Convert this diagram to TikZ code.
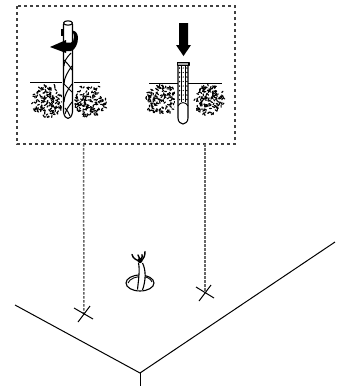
\documentclass[tikz,border=0pt]{standalone}
\tikzset{
  frame/.style={line width=1.2pt,dash pattern=on 3.4pt off 2.6pt,draw=black!75},
  drop/.style={line width=1.5pt,dash pattern=on 2.5pt off 1.5pt,draw=black!60},
  edge/.style={line width=1pt,draw=black},
  ink/.style={line width=1.1pt,draw=black,line join=round},
  clear/.style={fill=white,draw=none},
  speck/.style={line width=1.15pt,draw=black,line cap=round}
}
\newcommand{\soilpatch}[5]{% cx cy rx ry count
  \foreach \i in {1,...,#5}{
    \pgfmathsetmacro\rr{sqrt(rnd)}
    \pgfmathsetmacro\aa{360*rnd}
    \pgfmathsetmacro\bb{360*rnd}
    \pgfmathsetmacro\px{#1+#3*\rr*cos(\aa)}
    \pgfmathsetmacro\py{#2+#4*\rr*sin(\aa)}
    \pgfmathsetmacro\qx{\px+1.8*cos(\bb)}
    \pgfmathsetmacro\qy{\py+1.8*sin(\bb)}
    \draw[speck] (\px,\py) -- (\qx,\qy);
  }
}
\begin{document}
\begin{tikzpicture}[x=1pt,y=-1pt]
\useasboundingbox (0,0) rectangle (345,386);
\pgfmathsetseed{7}
% named points
\coordinate (boxA) at (83.5,144);
\coordinate (boxB) at (205,144);
\coordinate (markA) at (84,314);
\coordinate (markB) at (205,292);
\coordinate (corner) at (140,373);
% frame
\draw[frame] (17,6) rectangle (235,144);
% connectors
\draw[drop] (boxA) -- (markA);
\draw[drop] (boxB) -- (markB);
% crosses
\draw[edge] (74,308) -- (93,319) (78,322) -- (90,306);
\draw[edge] (196,287) -- (214,298) (199,301) -- (211,285);
% walls
\draw[edge] (15,305) -- (corner) -- (335,242);
\draw[edge] (corner) -- (140,386);
% soil left
\soilpatch{47}{102}{16}{15}{140}
\soilpatch{90}{102}{16}{15}{140}
\soilpatch{46}{87}{13}{1.5}{8}
\soilpatch{91}{87}{12}{1.5}{8}
% soil right
\soilpatch{161}{100}{16}{15}{140}
\soilpatch{209}{100}{15}{15}{140}
\soilpatch{162}{87}{12}{1.5}{8}
\soilpatch{209}{87}{12}{1.5}{8}
% ground lines
\draw[edge] (30,82) -- (100,82);
\draw[edge] (149,83) -- (222,83);
% drill
\fill[clear] (62,50) rectangle (74,112);
\path[clear] (63.5,26) -- (63.5,112) .. controls (64,116) and (66,118.5) .. (68,118.5) .. controls (70,118.5) and (72,116) .. (72.5,112) -- (72.5,26) -- cycle;
\draw[ink] (63.5,24) -- (63.5,112) .. controls (64,116) and (66,118.5) .. (68,118.5) .. controls (70,118.5) and (72,116) .. (72.5,112) -- (72.5,24);
\draw[ink] (68,23) ellipse (4.5 and 2.2);
\draw[ink,line width=1pt] (71,53) .. controls (66,58) and (64,62) .. (64,66)
  (72,66) .. controls (68,71) and (64,78) .. (64,84)
  (72,84) .. controls (68,89) and (64,96) .. (64,102)
  (72,102) .. controls (69,106) and (66,110) .. (65,114)
  (64,60) .. controls (66,62) and (70,66) .. (72,70)
  (64,84) .. controls (66,86) and (70,90) .. (72,92)
  (65,108) .. controls (67,110) and (69,113) .. (70,116);
% rotation arrow
\fill[black] (60.5,29) -- (63.5,29) -- (63.5,36) -- (60.5,36) -- cycle;
\fill[black] (50,47) -- (66,40) -- (66,42.5) -- (71,42.5)
  .. controls (73,42) and (74,40) .. (74,37)
  .. controls (74,35) and (73.5,33) .. (72.5,32)
  -- (72.5,30.5)
  .. controls (76,31) and (78,34) .. (78,38)
  .. controls (78,44) and (75,50) .. (71,51)
  -- (66,51) -- (66,53) -- cycle;
% push arrow
\fill[black] (179,23) -- (188,23) -- (188,45) -- (191,45) -- (183.5,56) -- (176,45) -- (179,45) -- cycle;
% anchor
\fill[clear] (175,84) rectangle (192,120);
\path[clear] (178,65) rectangle (188,120);
\draw[ink] (178,66) -- (178,118) .. controls (178,122) and (181,124) .. (183,124) .. controls (185,124) and (188,122) .. (188,118) -- (188,66);
\draw[ink,fill=black!35] (177.5,62.5) rectangle (189,65.5);
\draw[ink,line width=0.9pt] (181,66) -- (181,102) (185.5,66) -- (185.5,102);
\draw[ink,line width=0.9pt] (178,106) .. controls (180,101.5) and (186,101.5) .. (188,106);
\foreach \yy in {68,72.5,...,100}{
  \fill[black] (179.6,\yy) circle (0.85);
  \fill[black] (186.9,\yy) circle (0.85);
  \fill[black] (183.2,\yy) circle (0.7);
}
% hole and cable
\draw[ink] (140,283) ellipse (14 and 8);
\draw[ink,line width=0.9pt] (128,283) .. controls (130,278) and (137,276.5) .. (142,276.5) .. controls (147,276.5) and (151,279) .. (152,282);
\path[fill=white] (137.5,289.5) .. controls (138.5,280) and (140,270) .. (138.5,263) -- (142.5,263) .. controls (146,270) and (146,280) .. (142.5,290) -- cycle;
\draw[ink] (137.5,289.5) .. controls (138.5,280) and (140,270) .. (138.5,263);
\draw[ink] (142.5,290) .. controls (146,280) and (146,270) .. (142.5,263);
\fill[black] (140,260.5) circle (2.6);
\draw[ink,line width=1.4pt,line cap=round] (139,261) .. controls (137,260) and (133,259) .. (132,254.5);
\draw[ink,line width=1.4pt,line cap=round] (140,260) .. controls (139,258) and (139,256) .. (138,255);
\draw[ink,line width=1.4pt,line cap=round] (140,260) .. controls (142,258) and (143,256) .. (142,254.5);
\draw[ink,line width=1.4pt,line cap=round] (141,261) .. controls (144,258) and (145,256) .. (145,251.5);
\end{tikzpicture}
\end{document}
